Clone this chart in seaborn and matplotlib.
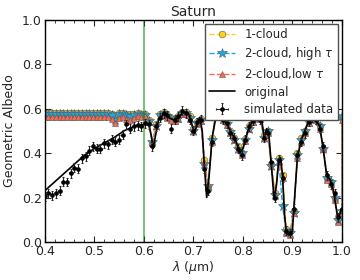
import numpy as np
import pandas as pd
import seaborn as sns
import matplotlib
matplotlib.use("Agg")
import matplotlib.pyplot as plt
from matplotlib.ticker import MultipleLocator, FormatStrFormatter

# high resolution "original" spectrum
orig_wl = [0.400, 0.420, 0.440, 0.460, 0.480, 0.500, 0.520, 0.540, 0.560, 0.580,
           0.600, 0.610, 0.615, 0.619, 0.623, 0.630, 0.640, 0.650, 0.660, 0.670,
           0.680, 0.690, 0.697, 0.703, 0.708, 0.713, 0.718, 0.722, 0.727, 0.732,
           0.738, 0.747, 0.755, 0.765, 0.775, 0.785, 0.794, 0.800, 0.810, 0.820,
           0.831, 0.838, 0.843, 0.848, 0.853, 0.858, 0.863, 0.868, 0.872, 0.876,
           0.880, 0.884, 0.888, 0.894, 0.900, 0.905, 0.910, 0.918, 0.925, 0.932,
           0.939, 0.946, 0.955, 0.962, 0.969, 0.976, 0.982, 0.987, 0.992, 0.996, 1.000]
orig_alb = [0.23, 0.27, 0.31, 0.35, 0.39, 0.42, 0.445, 0.47, 0.50, 0.52,
            0.53, 0.53, 0.48, 0.42, 0.47, 0.55, 0.575, 0.56, 0.55, 0.56,
            0.585, 0.58, 0.53, 0.49, 0.54, 0.56, 0.50, 0.35, 0.20, 0.30,
            0.47, 0.58, 0.57, 0.54, 0.50, 0.46, 0.40, 0.42, 0.50, 0.55,
            0.575, 0.55, 0.47, 0.51, 0.47, 0.33, 0.19, 0.26, 0.36, 0.38,
            0.30, 0.12, 0.04, 0.03, 0.05, 0.22, 0.38, 0.46, 0.50, 0.54,
            0.57, 0.555, 0.52, 0.42, 0.30, 0.28, 0.24, 0.17, 0.10, 0.13, 0.15]

# simulated data
data_wl = [0.4000, 0.4075, 0.4150, 0.4225, 0.4300, 0.4375, 0.4450, 0.4525, 0.4600, 0.4675,
           0.4750, 0.4825, 0.4900, 0.4975, 0.5050, 0.5125, 0.5200, 0.5275, 0.5350, 0.5425,
           0.5500, 0.5575, 0.5650, 0.5725, 0.5800, 0.5875, 0.5950, 0.6025, 0.6100, 0.6175,
           0.6250, 0.6325, 0.6400, 0.6475, 0.6550, 0.6625, 0.6700, 0.6775, 0.6850, 0.6925,
           0.7000, 0.7075, 0.7150, 0.7225, 0.7300, 0.7375, 0.7450, 0.7525, 0.7600, 0.7675,
           0.7750, 0.7825, 0.7900, 0.7975, 0.8050, 0.8125, 0.8200, 0.8275, 0.8350, 0.8425,
           0.8500, 0.8575, 0.8650, 0.8725, 0.8800, 0.8875, 0.8950, 0.9025, 0.9100, 0.9175,
           0.9250, 0.9325, 0.9400, 0.9475, 0.9550, 0.9625, 0.9700, 0.9775, 0.9850, 0.9925, 1.0000]
data_alb = [0.205, 0.22, 0.21, 0.22, 0.23, 0.272, 0.27, 0.31, 0.335, 0.33,
            0.377, 0.385, 0.41, 0.43, 0.42, 0.42, 0.445, 0.44, 0.46, 0.452,
            0.46, 0.482, 0.53, 0.51, 0.52, 0.525, 0.52, 0.535, 0.53, 0.43,
            0.52, 0.56, 0.58, 0.57, 0.51, 0.55, 0.565, 0.59, 0.58, 0.55,
            0.50, 0.54, 0.55, 0.33, 0.23, 0.45, 0.58, 0.57, 0.55, 0.535,
            0.49, 0.47, 0.42, 0.39, 0.46, 0.52, 0.545, 0.575, 0.55, 0.47,
            0.49, 0.36, 0.20, 0.37, 0.29, 0.05, 0.04, 0.15, 0.39, 0.45,
            0.49, 0.54, 0.56, 0.55, 0.51, 0.43, 0.30, 0.26, 0.22, 0.11, 0.15]
data_err = 0.02
data_wl_err = 0.0025

# model fits (same grid as data, last point repeated at 1.0)
model_wl = data_wl + [1.0]
one_cloud = [0.58, 0.58, 0.58, 0.58, 0.58, 0.58, 0.58, 0.58, 0.58, 0.58,
             0.58, 0.58, 0.58, 0.58, 0.58, 0.58, 0.58, 0.58, 0.578, 0.57,
             0.58, 0.58, 0.575, 0.575, 0.575, 0.58, 0.578, 0.575, 0.55, 0.44,
             0.53, 0.575, 0.585, 0.57, 0.56, 0.555, 0.565, 0.585, 0.585, 0.565,
             0.51, 0.54, 0.555, 0.37, 0.24, 0.47, 0.58, 0.58, 0.56, 0.535,
             0.50, 0.47, 0.43, 0.40, 0.465, 0.52, 0.55, 0.57, 0.565, 0.48,
             0.50, 0.35, 0.22, 0.38, 0.30, 0.06, 0.05, 0.14, 0.40, 0.47,
             0.50, 0.545, 0.575, 0.56, 0.52, 0.42, 0.29, 0.27, 0.20, 0.11, 0.14, 0.56]
two_cloud_high = [0.577, 0.577, 0.577, 0.577, 0.577, 0.577, 0.577, 0.577, 0.577, 0.577,
                  0.577, 0.577, 0.577, 0.577, 0.577, 0.577, 0.577, 0.577, 0.57, 0.55,
                  0.575, 0.577, 0.57, 0.565, 0.57, 0.575, 0.572, 0.57, 0.545, 0.45,
                  0.52, 0.57, 0.58, 0.565, 0.555, 0.55, 0.56, 0.58, 0.58, 0.56,
                  0.50, 0.535, 0.55, 0.35, 0.25, 0.46, 0.575, 0.58, 0.555, 0.53,
                  0.495, 0.46, 0.42, 0.40, 0.46, 0.51, 0.545, 0.57, 0.56, 0.47,
                  0.50, 0.34, 0.21, 0.37, 0.16, 0.05, 0.04, 0.13, 0.39, 0.46,
                  0.50, 0.54, 0.58, 0.555, 0.52, 0.42, 0.29, 0.27, 0.20, 0.10, 0.14, 0.565]
two_cloud_low = [0.562, 0.562, 0.562, 0.562, 0.562, 0.562, 0.562, 0.562, 0.562, 0.562,
                 0.562, 0.562, 0.562, 0.562, 0.562, 0.562, 0.562, 0.562, 0.555, 0.537,
                 0.56, 0.562, 0.555, 0.55, 0.558, 0.565, 0.562, 0.565, 0.54, 0.45,
                 0.52, 0.565, 0.575, 0.56, 0.55, 0.545, 0.555, 0.575, 0.575, 0.555,
                 0.50, 0.53, 0.545, 0.36, 0.26, 0.45, 0.57, 0.57, 0.55, 0.525,
                 0.49, 0.46, 0.42, 0.39, 0.455, 0.51, 0.54, 0.56, 0.555, 0.47,
                 0.49, 0.34, 0.21, 0.36, 0.29, 0.04, 0.03, 0.13, 0.38, 0.45,
                 0.49, 0.535, 0.565, 0.55, 0.51, 0.42, 0.28, 0.26, 0.19, 0.09, 0.13, 0.55]

sns.set_style("ticks")
plt.rcParams['font.family'] = ['DejaVu Sans']
plt.rcParams['xtick.direction'] = 'in'
plt.rcParams['ytick.direction'] = 'in'
plt.rcParams['xtick.top'] = True
plt.rcParams['ytick.right'] = True

fig = plt.figure(figsize=(3.6, 2.8), dpi=100)
ax = fig.add_axes([0.124, 0.136, 0.826, 0.793])

models = [
    (one_cloud, '1-cloud', '#ffd11a', 'o', 4.8),
    (two_cloud_high, '2-cloud, high $\\tau$', '#1fa8e0', '*', 7.0),
    (two_cloud_low, '2-cloud,low $\\tau$', '#f36b50', '^', 4.8),
]
for vals, lab, col, mk, ms in models:
    sns.lineplot(x=model_wl, y=vals, ax=ax, estimator=None, sort=False,
                 color=col, linestyle='--', lw=1.0, marker=mk, markersize=ms,
                 markeredgecolor='0.35', markeredgewidth=0.4, label=lab)

sns.lineplot(x=orig_wl, y=orig_alb, ax=ax, estimator=None, sort=False,
             color='black', lw=1.2, label='original')

ax.errorbar(data_wl, data_alb, yerr=data_err, xerr=data_wl_err, fmt='o',
            color='black', ecolor='0.15', ms=2.3, elinewidth=0.8, capsize=1.0,
            capthick=0.8, label='simulated data')

ax.axvline(0.6, color='green', alpha=0.5, lw=1.5)

ax.set_xlim(0.4, 1.0)
ax.set_ylim(0.0, 1.0)
ax.xaxis.set_major_locator(MultipleLocator(0.1))
ax.xaxis.set_minor_locator(MultipleLocator(0.02))
ax.yaxis.set_major_locator(MultipleLocator(0.2))
ax.xaxis.set_major_formatter(FormatStrFormatter('%.1f'))
ax.yaxis.set_major_formatter(FormatStrFormatter('%.1f'))
ax.tick_params(which='major', length=4, width=0.8, labelsize=9, pad=2)
ax.tick_params(which='minor', length=2, width=0.6)
for s in ax.spines.values():
    s.set_linewidth(1.0)
    s.set_color('black')

ax.set_title('Saturn', fontsize=10, pad=3)
ax.set_xlabel('$\\lambda$ ($\\mu$m)', fontsize=9, labelpad=1)
ax.set_ylabel('Geometric Albedo', fontsize=9, labelpad=4)

ax.legend(loc='upper right', fontsize=8.5, numpoints=1, fancybox=False,
          framealpha=1, edgecolor='0.3', borderaxespad=0.35, handlelength=2.2,
          labelspacing=0.35, handletextpad=0.8, borderpad=0.35)

fig.savefig('out.png', dpi=100)
